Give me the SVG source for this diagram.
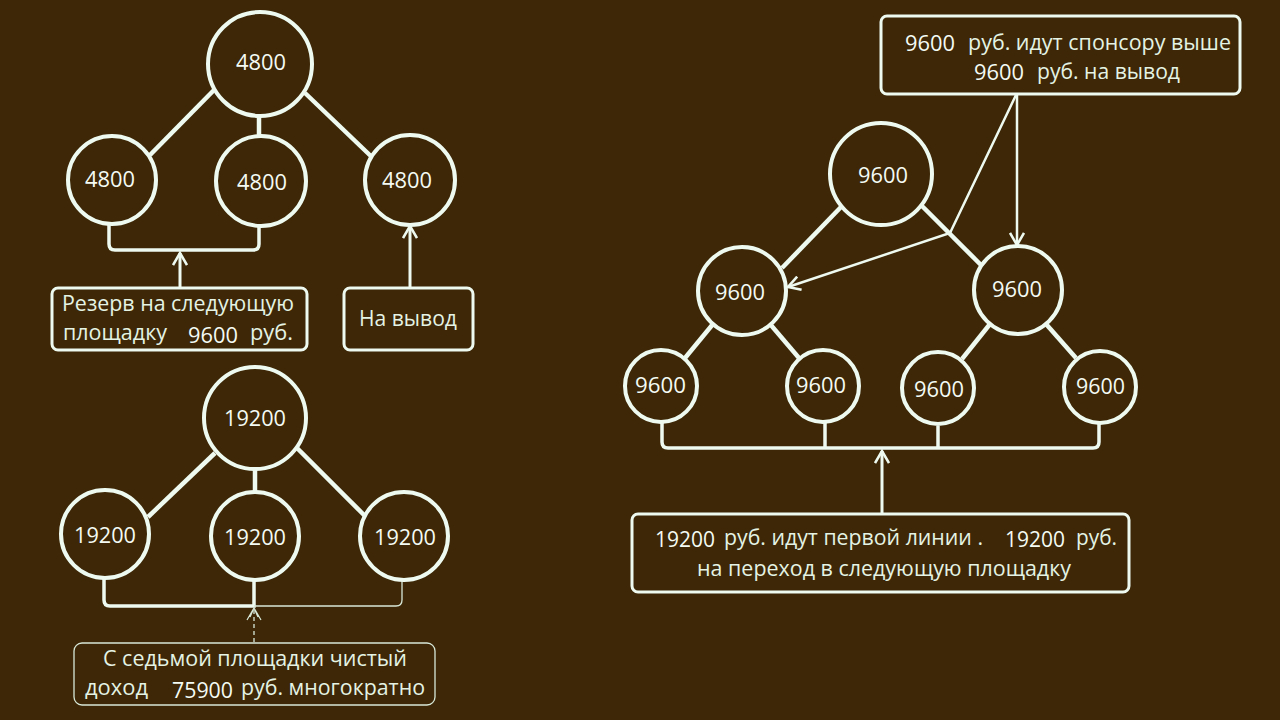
<svg xmlns="http://www.w3.org/2000/svg" width="1280" height="720" viewBox="0 0 1280 720">
<defs>
<style>
.bg{fill:#3d2706}
.node circle{fill:#3d2706;stroke:#eefaf0;stroke-width:4}
.num{font-family:"Open Sans","Noto Sans","DejaVu Sans",sans-serif;font-size:21px;fill:#f4fbf4}
.lbl{font-family:"Open Sans","Noto Sans","DejaVu Sans",sans-serif;font-size:22px;fill:#e4f3e4}
.box rect{fill:#3d2706;stroke:#eefaf0;stroke-width:3}
.faint rect{stroke-width:1.3;stroke:#d8e8d8}
.edge{stroke:#eefaf0;stroke-width:4.5;fill:none;stroke-linecap:butt}
.bracket{stroke:#eefaf0;stroke-width:3.5;fill:none}
.arrow{stroke:#eefaf0;stroke-width:3;fill:none;marker-end:url(#ah)}
.thin{stroke:#eefaf0;stroke-width:2.5;fill:none;marker-end:url(#ah)}
</style>
<marker id="ah" viewBox="0 0 16 16" refX="14" refY="8" markerWidth="16" markerHeight="16" markerUnits="userSpaceOnUse" orient="auto">
<path d="M2,1 L14,8 L2,15" fill="none" stroke="#eefaf0" stroke-width="2.6"/>
</marker>
<marker id="ahf" viewBox="0 0 16 16" refX="14" refY="8" markerWidth="16" markerHeight="16" markerUnits="userSpaceOnUse" orient="auto">
<path d="M2,1 L14,8 L2,15 M5,4 L14,8 L5,12" fill="none" stroke="#d8e8d8" stroke-width="1.2"/>
</marker>
</defs>
<rect class="bg" x="0" y="0" width="1280" height="720"/>

<g id="connectors">
<line class="edge" x1="216" y1="88" x2="150" y2="155"/>
<line class="edge" x1="259" y1="116" x2="259" y2="137"/>
<line class="edge" x1="305" y1="93" x2="376" y2="161"/>
<path class="bracket" d="M109,224 V244 Q109,250 115,250 H253 Q259,250 259,244 V226"/>
<line class="arrow" x1="180" y1="288" x2="180" y2="253"/>
<line class="arrow" x1="410" y1="288" x2="410" y2="226"/>
<line class="edge" x1="215" y1="453" x2="148" y2="517"/>
<line class="edge" x1="255" y1="469" x2="255" y2="491"/>
<line class="edge" x1="297" y1="448" x2="366" y2="517"/>
<path class="bracket" d="M104,578 V600 Q104,606 110,606 H254 V580"/>
<path d="M254,606 H396 Q402,606 402,600 V580" fill="none" stroke="#d8e8d8" stroke-width="1.3"/>
<line x1="254" y1="642" x2="254" y2="608" stroke="#d8e8d8" stroke-width="1.3" stroke-dasharray="4,3" marker-end="url(#ahf)"/>
<line class="edge" x1="841" y1="207" x2="782" y2="268"/>
<line class="edge" x1="921" y1="205" x2="983" y2="267"/>
<line class="edge" x1="713" y1="324" x2="685" y2="358"/>
<line class="edge" x1="770" y1="324" x2="799" y2="358"/>
<line class="edge" x1="990" y1="324" x2="962" y2="359"/>
<line class="edge" x1="1046" y1="324" x2="1076" y2="358"/>
<path class="bracket" d="M662,423 V442 Q662,448 668,448 H1093 Q1099,448 1099,442 V424"/>
<line class="bracket" x1="825" y1="423" x2="825" y2="448"/>
<line class="bracket" x1="938" y1="426" x2="938" y2="448"/>
<line class="arrow" x1="882" y1="513" x2="882" y2="451"/>
<line class="thin" x1="1017" y1="95" x2="1017" y2="245"/>
<polyline class="thin" points="1016,95 950,233 788,287"/>
</g>

<g id="n-tl-top" class="node"><circle cx="260" cy="64" r="52"/><text class="num" x="236" y="70" textLength="50" lengthAdjust="spacingAndGlyphs">4800</text></g>
<g id="n-tl-left" class="node"><circle cx="112" cy="180" r="44"/><text class="num" x="85" y="187" textLength="50" lengthAdjust="spacingAndGlyphs">4800</text></g>
<g id="n-tl-mid" class="node"><circle cx="261" cy="181" r="45"/><text class="num" x="237" y="190" textLength="50" lengthAdjust="spacingAndGlyphs">4800</text></g>
<g id="n-tl-right" class="node"><circle cx="410" cy="180" r="45"/><text class="num" x="382" y="188" textLength="50" lengthAdjust="spacingAndGlyphs">4800</text></g>

<g id="box-reserve" class="box"><rect x="52" y="288" width="255" height="62" rx="6"/>
<text class="lbl" x="62" y="311" textLength="232" lengthAdjust="spacingAndGlyphs">Резерв на следующую</text>
<text class="lbl" x="63" y="340" textLength="104" lengthAdjust="spacingAndGlyphs">площадку</text>
<text class="num" x="188" y="343" textLength="50" lengthAdjust="spacingAndGlyphs">9600</text>
<text class="lbl" x="250" y="340" textLength="43" lengthAdjust="spacingAndGlyphs">руб.</text></g>
<g id="box-out" class="box"><rect x="344" y="288" width="129" height="62" rx="6"/>
<text class="lbl" x="359" y="326" textLength="98" lengthAdjust="spacingAndGlyphs">На вывод</text></g>

<g id="n-bl-top" class="node"><circle cx="255" cy="418" r="51"/><text class="num" x="224" y="426" textLength="62" lengthAdjust="spacingAndGlyphs">19200</text></g>
<g id="n-bl-left" class="node"><circle cx="105" cy="534" r="44"/><text class="num" x="74" y="543" textLength="62" lengthAdjust="spacingAndGlyphs">19200</text></g>
<g id="n-bl-mid" class="node"><circle cx="255" cy="536" r="44"/><text class="num" x="224" y="545" textLength="62" lengthAdjust="spacingAndGlyphs">19200</text></g>
<g id="n-bl-right" class="node"><circle cx="404" cy="536" r="44"/><text class="num" x="374" y="545" textLength="62" lengthAdjust="spacingAndGlyphs">19200</text></g>

<g id="box-seventh" class="box faint"><rect x="74" y="643" width="361" height="62" rx="8"/>
<text class="lbl" x="103" y="666" textLength="304" lengthAdjust="spacingAndGlyphs">С седьмой площадки чистый</text>
<text class="lbl" x="85" y="695" textLength="63" lengthAdjust="spacingAndGlyphs">доход</text>
<text class="num" x="172" y="698" textLength="61" lengthAdjust="spacingAndGlyphs">75900</text>
<text class="lbl" x="241" y="695" textLength="184" lengthAdjust="spacingAndGlyphs">руб. многократно</text></g>

<g id="box-sponsor" class="box"><rect x="881" y="16" width="359" height="78" rx="6"/>
<text class="num" x="905" y="51" textLength="50" lengthAdjust="spacingAndGlyphs">9600</text>
<text class="lbl" x="968" y="50" textLength="263" lengthAdjust="spacingAndGlyphs">руб. идут спонсору выше</text>
<text class="num" x="974" y="80" textLength="50" lengthAdjust="spacingAndGlyphs">9600</text>
<text class="lbl" x="1037" y="79" textLength="143" lengthAdjust="spacingAndGlyphs">руб. на вывод</text></g>

<g id="n-r-top" class="node"><circle cx="881" cy="174" r="51"/><text class="num" x="858" y="183" textLength="50" lengthAdjust="spacingAndGlyphs">9600</text></g>
<g id="n-r-midl" class="node"><circle cx="742" cy="291" r="44"/><text class="num" x="715" y="300" textLength="50" lengthAdjust="spacingAndGlyphs">9600</text></g>
<g id="n-r-midr" class="node"><circle cx="1018" cy="290" r="44"/><text class="num" x="992" y="297" textLength="50" lengthAdjust="spacingAndGlyphs">9600</text></g>
<g id="n-r-b1" class="node"><circle cx="661" cy="386" r="36"/><text class="num" x="635" y="393" textLength="51" lengthAdjust="spacingAndGlyphs">9600</text></g>
<g id="n-r-b2" class="node"><circle cx="823" cy="386" r="36"/><text class="num" x="796" y="393" textLength="50" lengthAdjust="spacingAndGlyphs">9600</text></g>
<g id="n-r-b3" class="node"><circle cx="938" cy="388" r="36"/><text class="num" x="914" y="397" textLength="50" lengthAdjust="spacingAndGlyphs">9600</text></g>
<g id="n-r-b4" class="node"><circle cx="1100" cy="387" r="36"/><text class="num" x="1076" y="394" textLength="49" lengthAdjust="spacingAndGlyphs">9600</text></g>

<g id="box-firstline" class="box"><rect x="632" y="514" width="497" height="78" rx="6"/>
<text class="num" x="655" y="547" textLength="60" lengthAdjust="spacingAndGlyphs">19200</text>
<text class="lbl" x="724" y="545" textLength="259" lengthAdjust="spacingAndGlyphs">руб. идут первой линии .</text>
<text class="num" x="1005" y="547" textLength="60" lengthAdjust="spacingAndGlyphs">19200</text>
<text class="lbl" x="1076" y="545" textLength="41" lengthAdjust="spacingAndGlyphs">руб.</text>
<text class="lbl" x="697" y="576" textLength="374" lengthAdjust="spacingAndGlyphs">на переход в следующую площадку</text></g>
</svg>
